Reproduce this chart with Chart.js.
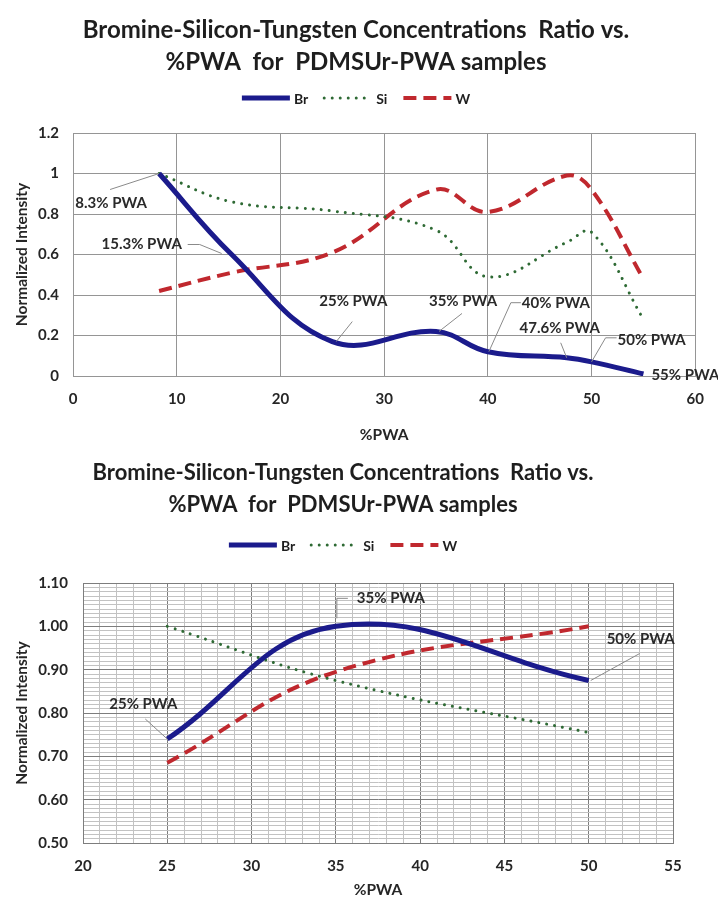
<!DOCTYPE html>
<html>
<head>
<meta charset="utf-8">
<script src="https://cdn.jsdelivr.net/npm/chart.js@4.4.1/dist/chart.umd.min.js"></script>
<style>
  body { margin: 0; background: #fff; }
  canvas { position: absolute; left: 0; }
  #topChart { top: 0; }
  #botChart { top: 452px; }
</style>
</head>
<body>
<canvas id="topChart" width="718" height="452"></canvas>
<canvas id="botChart" width="718" height="450"></canvas>
<script>
// ---- top chart: all samples ----
const topX = [8.3, 15.3, 25, 35, 40, 47.6, 50, 55];
const topBr = [1.0, 0.60, 0.17, 0.22, 0.12, 0.09, 0.07, 0.01];
const topSi = [1.0, 0.86, 0.815, 0.72, 0.49, 0.66, 0.71, 0.28];
const topW = [0.42, 0.51, 0.61, 0.92, 0.81, 0.99, 0.92, 0.48];
const topNotes = ['8.3% PWA', '15.3% PWA', '25% PWA', '35% PWA', '40% PWA', '47.6% PWA', '50% PWA', '55% PWA'];
const topXTicks = [0, 10, 20, 30, 40, 50, 60];
const topYTicks = [0, 0.2, 0.4, 0.6, 0.8, 1.0, 1.2];
const topYLabels = ['0', '0.2', '0.4', '0.6', '0.8', '1', '1.2'];

// ---- bottom chart: 25 / 35 / 50 % ----
const botX = [25, 35, 50];
const botBr = [0.74, 1.0, 0.875];
const botSi = [1.0, 0.875, 0.755];
const botW = [0.685, 0.895, 1.0];
const botNotes = ['25% PWA', '35% PWA', '50% PWA'];
const botXTicks = [];
for (let v = 20; v <= 55; v++) botXTicks.push(v);
const botYTicks = [];
for (let v = 50; v <= 110; v++) botYTicks.push(v / 100);

const titleLines = ['Bromine-Silicon-Tungsten Concentrations  Ratio vs.', '%PWA  for  PDMSUr-PWA samples'];
const seriesNames = ['Br', 'Si', 'W'];

Chart.defaults.font.family = 'Lato, "Open Sans", sans-serif';
Chart.defaults.color = '#262626';

const BR_COLOR = '#1b1b8c';
const SI_COLOR = '#2e6a34';
const W_COLOR = '#c0282e';

function series(xs, ys) {
  return xs.map((x, i) => ({ x, y: ys[i] }));
}

function makeDatasets(br, si, w, xs) {
  return [
    { label: seriesNames[0], data: series(xs, br), borderColor: BR_COLOR, borderWidth: 5, tension: 0.4, pointRadius: 0 },
    { label: seriesNames[1], data: series(xs, si), borderColor: SI_COLOR, borderWidth: 3, borderDash: [0.01, 8], borderCapStyle: 'round', tension: 0.4, pointRadius: 0 },
    { label: seriesNames[2], data: series(xs, w), borderColor: W_COLOR, borderWidth: 4, borderDash: [13, 7], tension: 0.4, pointRadius: 0 }
  ];
}

// title + legend drawn by hand so they sit where the original has them
const headerPlugin = {
  id: 'header',
  afterDraw(chart, args, opts) {
    const { ctx } = chart;
    ctx.save();
    ctx.fillStyle = '#1e1e1e';
    ctx.textAlign = 'center';
    ctx.textBaseline = 'middle';
    ctx.font = `bold ${opts.titleSize}px Lato, sans-serif`;
    titleLines.forEach((t, i) => ctx.fillText(t, opts.cx, opts.titleY[i]));

    // legend with line samples
    ctx.font = `bold ${opts.legendSize}px Lato, sans-serif`;
    const items = chart.data.datasets.map(ds => ({ ds, w: opts.sample + opts.gap + ctx.measureText(ds.label).width }));
    const total = items.reduce((s, it) => s + it.w, 0) + opts.spacing * (items.length - 1);
    let x = opts.cx - total / 2;
    const y = opts.legendY;
    items.forEach(({ ds, w }) => {
      ctx.beginPath();
      ctx.strokeStyle = ds.borderColor;
      ctx.lineWidth = ds.borderWidth;
      ctx.lineCap = ds.borderCapStyle || 'butt';
      ctx.setLineDash(ds.borderDash || []);
      ctx.moveTo(x, y);
      ctx.lineTo(x + opts.sample, y);
      ctx.stroke();
      ctx.setLineDash([]);
      ctx.textAlign = 'left';
      ctx.fillText(ds.label, x + opts.sample + opts.gap, y + 1);
      x += w + opts.spacing;
    });
    ctx.restore();
  }
};

// data labels with grey leader lines, anchored on the Br points
const notesPlugin = {
  id: 'notes',
  afterDatasetsDraw(chart, args, opts) {
    const { ctx } = chart;
    const meta = chart.getDatasetMeta(0);
    ctx.save();
    ctx.font = `bold ${opts.size}px Lato, sans-serif`;
    ctx.textAlign = 'center';
    ctx.textBaseline = 'middle';
    opts.texts.forEach((txt, i) => {
      const pt = meta.data[i];
      const o = opts.place[i];
      if (o.path) {
        ctx.beginPath();
        ctx.strokeStyle = '#8a8a8a';
        ctx.lineWidth = 1;
        o.path.forEach(([dx, dy], k) => {
          if (k === 0) ctx.moveTo(pt.x + dx, pt.y + dy);
          else ctx.lineTo(pt.x + dx, pt.y + dy);
        });
        ctx.stroke();
      }
      ctx.fillStyle = '#2a2a2a';
      ctx.fillText(txt, pt.x + o.text[0], pt.y + o.text[1]);
    });
    ctx.restore();
  }
};

const tickFont = { size: 15, weight: 'bold' };
const titleFont = { size: 15.5, weight: 'bold' };

new Chart(document.getElementById('topChart'), {
  type: 'line',
  data: { datasets: makeDatasets(topBr, topSi, topW, topX) },
  plugins: [headerPlugin, notesPlugin],
  options: {
    responsive: false,
    animation: false,
    layout: { padding: { top: 133, right: 21, left: 0, bottom: 0 } },
    plugins: {
      legend: { display: false },
      tooltip: { enabled: false },
      header: { cx: 356, titleY: [30, 62], titleSize: 24, legendY: 98, legendSize: 14, sample: 48, gap: 4, spacing: 16 },
      notes: {
        size: 15,
        texts: topNotes,
        place: [
          { text: [-48, 30], path: [[-49, 16], [0, 0]] },
          { text: [-90, -10], path: [[-44, -10], [-32, -10], [-10, -1]] },
          { text: [21, -40], path: [[20, -20], [4, 0]] },
          { text: [27, -30], path: [[26, -18], [3, 0]] },
          { text: [68, -49], path: [[33, -49], [23, -49], [1, 0]] },
          { text: [-7, -30], path: [[-6, -15], [0, 0]] },
          { text: [60, -22], path: [[25, -24], [14, -24], [0, 0]] },
          { text: [42, 1] }
        ]
      }
    },
    scales: {
      x: {
        type: 'linear', min: 0, max: 60,
        afterBuildTicks: s => { s.ticks = topXTicks.map(v => ({ value: v })); },
        afterFit: s => { s.height = 76; },
        grid: { color: '#959595', drawTicks: false },
        border: { color: '#959595' },
        ticks: { font: tickFont, padding: 14 },
        title: { display: true, text: '%PWA', font: titleFont, padding: { top: 0, bottom: 8 } }
      },
      y: {
        min: 0, max: 1.2,
        afterBuildTicks: s => { s.ticks = topYTicks.map(v => ({ value: v })); },
        afterFit: s => { s.width = 73; },
        grid: { color: '#959595', drawTicks: false },
        border: { color: '#959595' },
        ticks: { font: tickFont, padding: 14, callback: (v, i) => topYLabels[i] },
        title: { display: true, text: 'Normalized Intensity', font: titleFont, padding: { top: 13, bottom: 0 } }
      }
    }
  }
});

const isMajor = (v, step) => Math.abs(v / step - Math.round(v / step)) < 1e-6;

new Chart(document.getElementById('botChart'), {
  type: 'line',
  data: { datasets: makeDatasets(botBr, botSi, botW, botX) },
  plugins: [headerPlugin, notesPlugin],
  options: {
    responsive: false,
    animation: false,
    layout: { padding: { top: 131, right: 45, left: 0, bottom: 0 } },
    plugins: {
      legend: { display: false },
      tooltip: { enabled: false },
      header: { cx: 343, titleY: [21, 53], titleSize: 22, legendY: 93, legendSize: 14, sample: 48, gap: 4, spacing: 16 },
      notes: {
        size: 15,
        texts: botNotes,
        place: [
          { text: [-24, -35], path: [[-22, -20], [0, 0]] },
          { text: [55, -28], path: [[12, -28], [1, -28], [1, -8]] },
          { text: [52, -41], path: [[51, -27], [2, 0]] }
        ]
      }
    },
    scales: {
      x: {
        type: 'linear', min: 20, max: 55,
        afterBuildTicks: s => { s.ticks = botXTicks.map(v => ({ value: v })); },
        afterFit: s => { s.height = 59; },
        grid: { color: c => isMajor(c.tick.value, 5) ? '#7d7d7d' : '#c2c2c2', drawTicks: false },
        border: { color: '#7d7d7d' },
        ticks: { font: tickFont, padding: 14, autoSkip: false, maxRotation: 0,
                 callback: v => isMajor(v, 5) ? String(v) : '' },
        title: { display: true, text: '%PWA', font: titleFont, padding: { top: 0, bottom: 3 } }
      },
      y: {
        min: 0.5, max: 1.1,
        afterBuildTicks: s => { s.ticks = botYTicks.map(v => ({ value: v })); },
        afterFit: s => { s.width = 83; },
        grid: { color: c => isMajor(c.tick.value, 0.1) ? '#7d7d7d' : '#c2c2c2', drawTicks: false },
        border: { color: '#7d7d7d' },
        ticks: { font: tickFont, padding: 15, autoSkip: false,
                 callback: v => isMajor(v, 0.1) ? v.toFixed(2) : '' },
        title: { display: true, text: 'Normalized Intensity', font: titleFont, padding: { top: 13, bottom: 0 } }
      }
    }
  }
});
</script>
</body>
</html>
